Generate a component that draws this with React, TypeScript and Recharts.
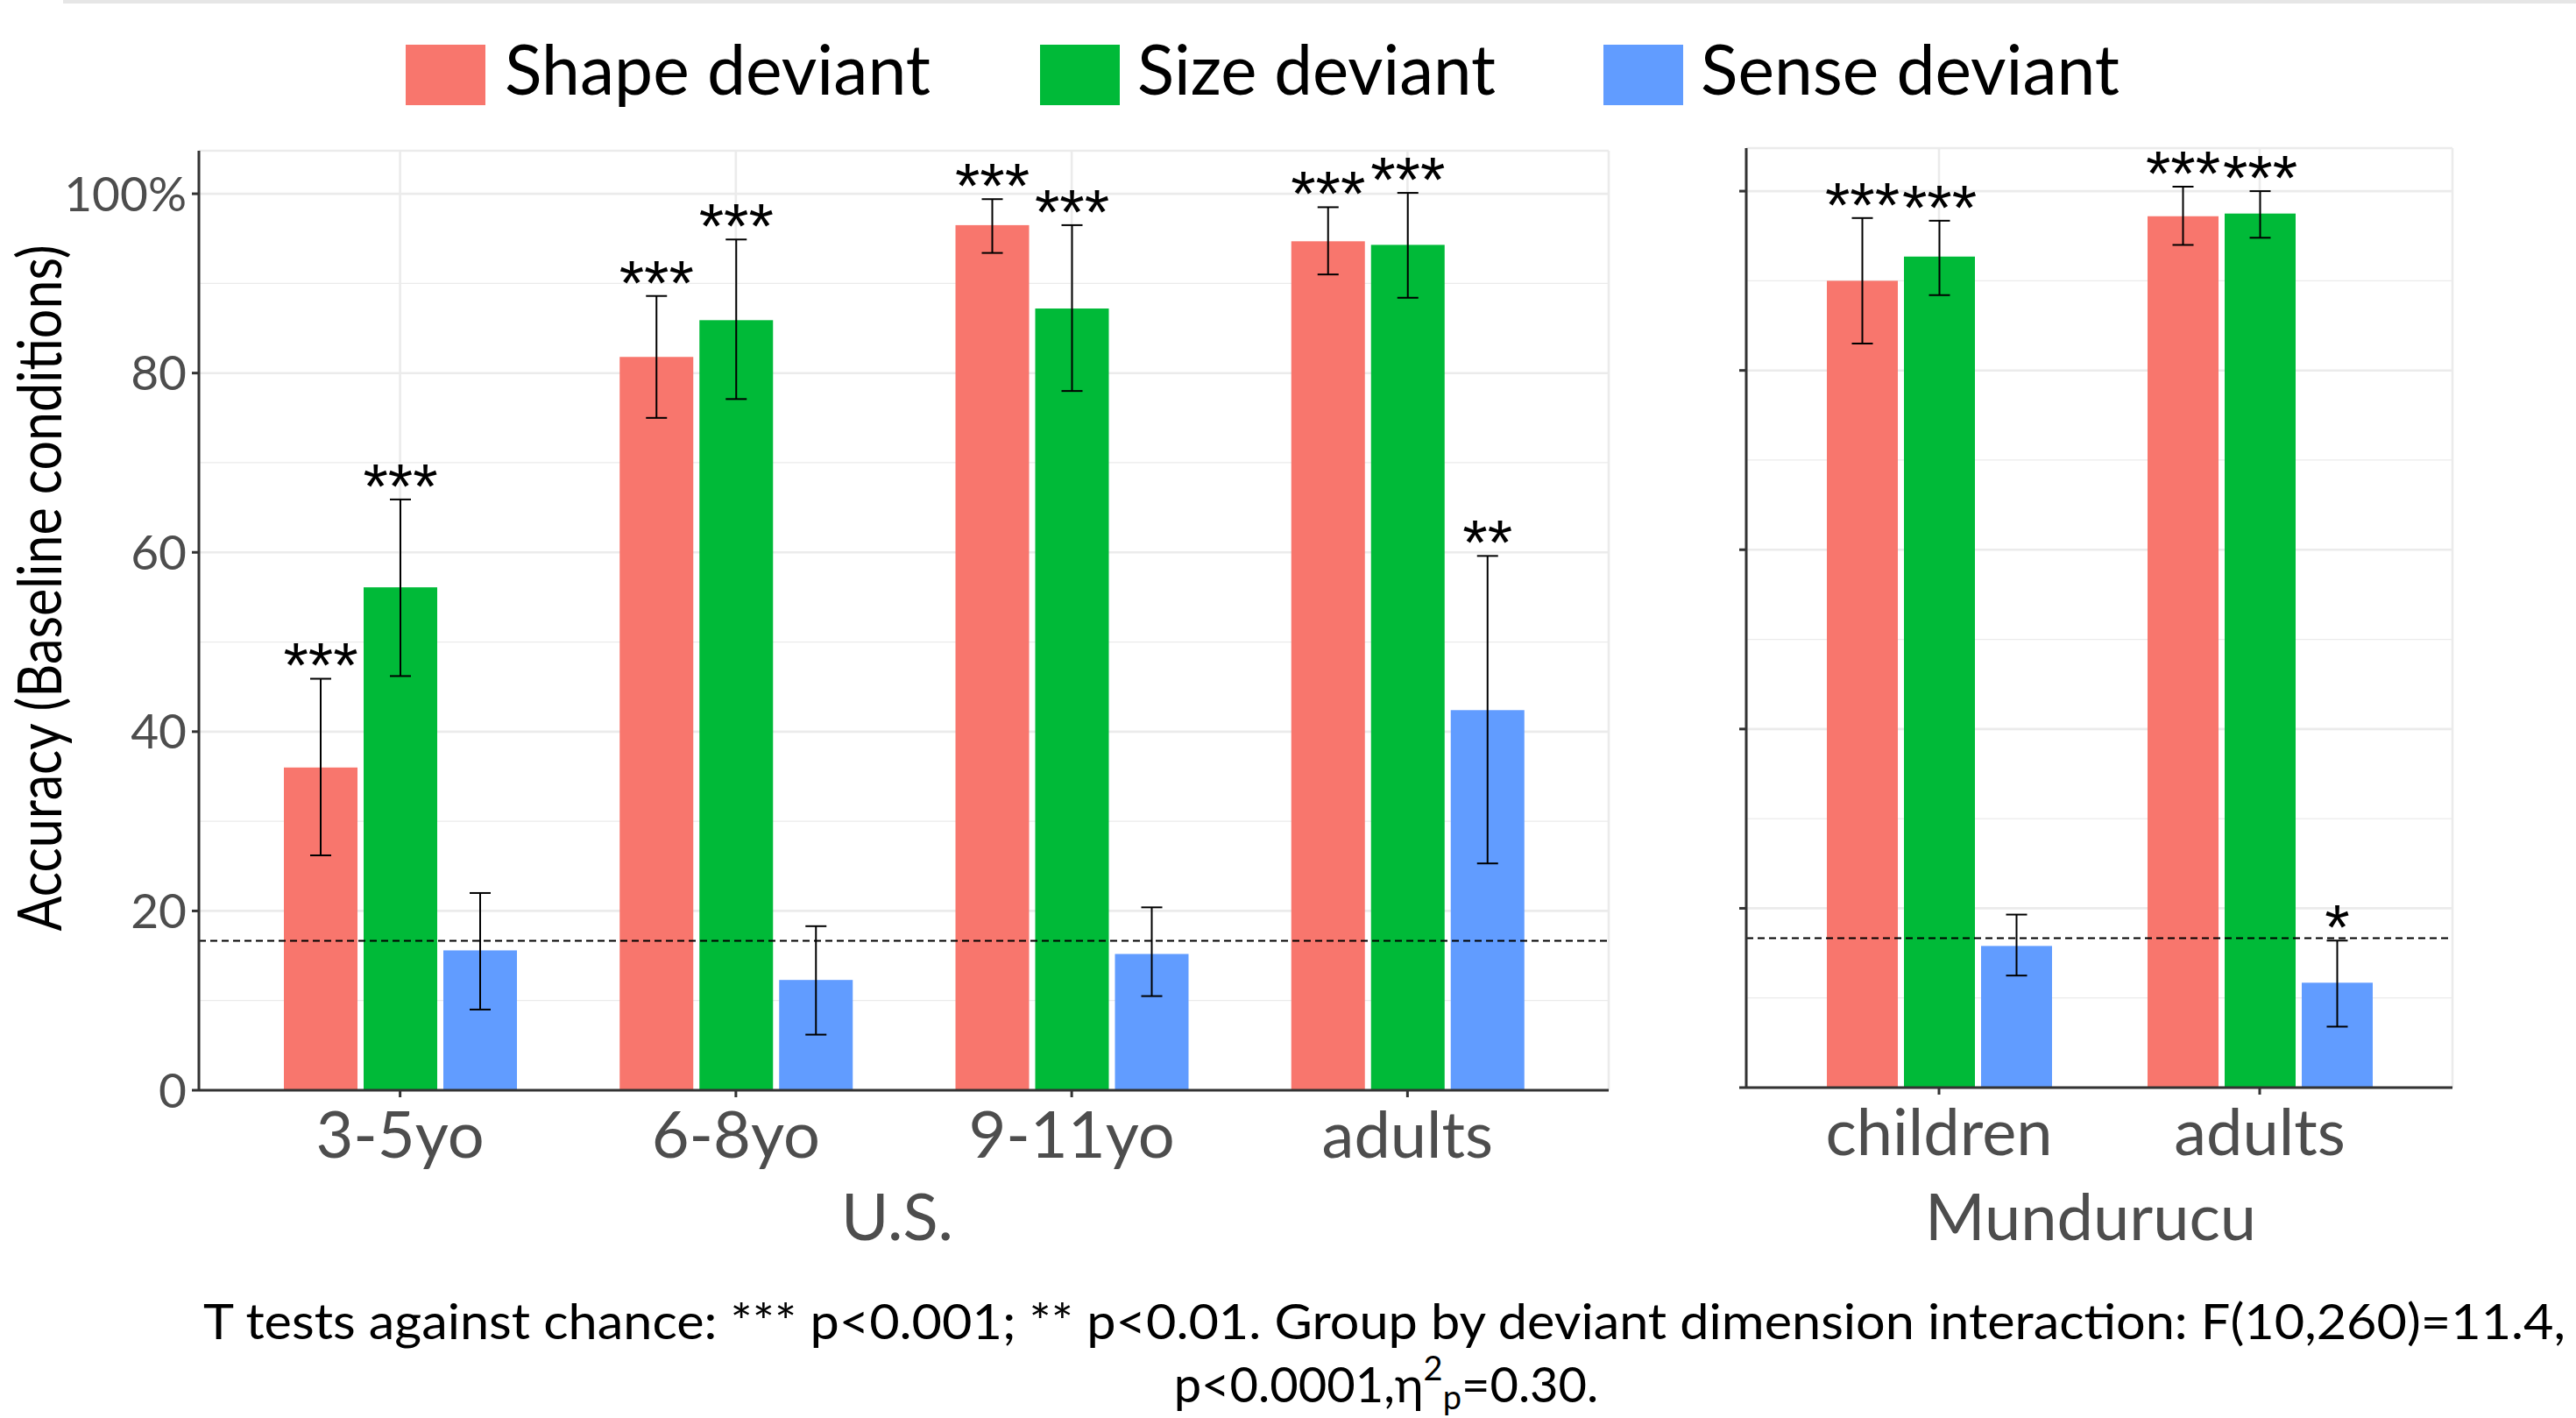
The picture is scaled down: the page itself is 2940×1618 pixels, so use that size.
import React from 'react';
import { BarChart, Bar, XAxis, YAxis, CartesianGrid, ReferenceLine, ErrorBar } from 'recharts';

// ---------- data ----------
const seriesNames = ['Shape deviant', 'Size deviant', 'Sense deviant'];
const seriesKeys = ['shape', 'size', 'sense'];
const seriesColors = ['#F8766D', '#00BA38', '#619CFF'];

const usGroups = ['3-5yo', '6-8yo', '9-11yo', 'adults'];
const usShape = [36.0, 81.8, 96.5, 94.7];
const usShapeLow = [26.2, 75.0, 93.4, 91.0];
const usShapeHigh = [45.9, 88.6, 99.4, 98.5];
const usSize = [56.1, 85.9, 87.2, 94.3];
const usSizeLow = [46.2, 77.1, 78.0, 88.4];
const usSizeHigh = [65.9, 94.9, 96.5, 100.1];
const usSense = [15.6, 12.3, 15.2, 42.4];
const usSenseLow = [9.0, 6.2, 10.5, 25.3];
const usSenseHigh = [22.0, 18.3, 20.4, 59.6];
const usShapeSig = ['***', '***', '***', '***'];
const usSizeSig = ['***', '***', '***', '***'];
const usSenseSig = ['', '', '', '**'];

const muGroups = ['children', 'adults'];
const muShape = [90.0, 97.2];
const muShapeLow = [83.0, 94.0];
const muShapeHigh = [97.0, 100.5];
const muSize = [92.7, 97.5];
const muSizeLow = [88.4, 94.8];
const muSizeHigh = [96.7, 100.0];
const muSense = [15.8, 11.7];
const muSenseLow = [12.5, 6.8];
const muSenseHigh = [19.3, 16.4];
const muShapeSig = ['***', '***'];
const muSizeSig = ['***', '***'];
const muSenseSig = ['', '*'];

const yTicks = [0, 20, 40, 60, 80, 100];
const yMinorGrid = [10, 30, 50, 70, 90];
const chanceLevel = 100 / 6;
const yTop = 104.8;

const usTitle = 'U.S.';
const muTitle = 'Mundurucu';
const yTitle = 'Accuracy (Baseline conditions)';
const footLine1 = 'T tests against chance: *** p<0.001; ** p<0.01. Group by deviant dimension interaction: F(10,260)=11.4,';

// ---------- helpers ----------
function buildRows(groups: string[], vals: number[][], lows: number[][], highs: number[][], sigs: string[][]) {
  return groups.map((g, i) => {
    const row: any = { group: g };
    seriesKeys.forEach((k, s) => {
      row[k] = vals[s][i];
      row[k + 'Err'] = [vals[s][i] - lows[s][i], highs[s][i] - vals[s][i]];
      row[k + 'Hi'] = highs[s][i];
      row[k + 'Sig'] = sigs[s][i];
    });
    return row;
  });
}

const usRows = buildRows(
  usGroups,
  [usShape, usSize, usSense],
  [usShapeLow, usSizeLow, usSenseLow],
  [usShapeHigh, usSizeHigh, usSenseHigh],
  [usShapeSig, usSizeSig, usSenseSig]
);
const muRows = buildRows(
  muGroups,
  [muShape, muSize, muSense],
  [muShapeLow, muSizeLow, muSenseLow],
  [muShapeHigh, muSizeHigh, muSenseHigh],
  [muShapeSig, muSizeSig, muSenseSig]
);

const makeShape = (key: string) => (props: any) => {
  const { x, y, width, height, fill, payload } = props;
  const v = payload[key];
  const hi = payload[key + 'Hi'];
  const sig = payload[key + 'Sig'];
  const y0 = y + height;
  const yHi = v > 0 ? y0 - (hi / v) * height : y0;
  return (
    <g>
      <rect x={x} y={y} width={width} height={height} fill={fill} />
      {sig ? (
        <text
          x={x + width / 2}
          y={yHi + 10}
          textAnchor="middle"
          fontFamily="'Liberation Sans', Arial, sans-serif"
          fontSize={73}
          fill="#000"
        >
          {sig}
        </text>
      ) : null}
    </g>
  );
};

const AXIS = { stroke: '#333333', strokeWidth: 3 };

function Panel(props: {
  rows: any[];
  width: number;
  height: number;
  margin: any;
  barSize: number;
  barGap: number;
  xPad: number;
  yAxisWidth: number;
  showYLabels: boolean;
}) {
  const { rows, width, height, margin, barSize, barGap, xPad, yAxisWidth, showYLabels } = props;
  return (
    <BarChart width={width} height={height} data={rows} margin={margin} barSize={barSize} barGap={barGap}>
      <CartesianGrid horizontalValues={yMinorGrid} vertical={false} stroke="#EBEBEB" strokeWidth={1.3} />
      <CartesianGrid stroke="#EBEBEB" strokeWidth={2.6} />
      <XAxis
        dataKey="group"
        padding={{ left: xPad, right: xPad }}
        height={100}
        tickSize={8}
        tickMargin={16}
        interval={0}
        axisLine={AXIS}
        tickLine={AXIS}
        tick={{ fill: '#4D4D4D', fontSize: 74, fontFamily: 'Lato' }}
      />
      <XAxis
        xAxisId="top"
        orientation="top"
        dataKey="group"
        padding={{ left: xPad, right: xPad }}
        height={0}
        tick={false}
        tickLine={false}
        axisLine={AXIS}
      />
      <YAxis
        type="number"
        domain={[0, yTop]}
        ticks={yTicks}
        width={yAxisWidth}
        tickSize={8}
        tickMargin={6}
        axisLine={AXIS}
        tickLine={AXIS}
        tick={{ fill: '#4D4D4D', fontSize: 55, fontFamily: 'Lato' }}
        tickFormatter={(v: number) => (showYLabels ? (v === 100 ? '100%' : String(v)) : '')}
      />
      <YAxis
        yAxisId="r"
        orientation="right"
        type="number"
        domain={[0, yTop]}
        width={0}
        tick={false}
        tickLine={false}
        axisLine={AXIS}
      />
      {seriesKeys.map((k, s) => (
        <Bar key={k} dataKey={k} fill={seriesColors[s]} isAnimationActive={false} shape={makeShape(k)}>
          <ErrorBar dataKey={k + 'Err'} width={12} stroke="#000" strokeWidth={2} direction="y" />
        </Bar>
      ))}
      <ReferenceLine y={chanceLevel} stroke="#000" strokeWidth={2} strokeDasharray="8 5" />
    </BarChart>
  );
}

export default function App() {
  const legendSwatchX = [463, 1187, 1830];
  const legendTextX = [576, 1298, 1941];
  const legendTextLen = [486, 409, 478];
  return (
    <div
      style={{
        position: 'absolute',
        left: 0,
        top: 0,
        width: 2940,
        height: 1618,
        background: '#fff',
        overflow: 'hidden',
      }}
    >
      <div style={{ position: 'absolute', left: 72, top: 0, width: 2868, height: 4, background: '#E6E6E6' }} />
      <div style={{ position: 'absolute', left: 0, top: 0 }}>
        <Panel
          rows={usRows}
          width={1900}
          height={1460}
          margin={{ top: 172, right: 64, left: 107, bottom: 116 }}
          barSize={84}
          barGap={7}
          xPad={38}
          yAxisWidth={120}
          showYLabels={true}
        />
      </div>
      <div style={{ position: 'absolute', left: 1900, top: 0 }}>
        <Panel
          rows={muRows}
          width={1000}
          height={1460}
          margin={{ top: 169, right: 101, left: 73, bottom: 119 }}
          barSize={81}
          barGap={7}
          xPad={37}
          yAxisWidth={20}
          showYLabels={false}
        />
      </div>
      <svg
        width={2940}
        height={1618}
        style={{ position: 'absolute', left: 0, top: 0, pointerEvents: 'none' }}
      >
        {seriesNames.map((name, s) => (
          <g key={name}>
            <rect x={legendSwatchX[s]} y={51} width={91} height={69} fill={seriesColors[s]} />
            <text
              x={legendTextX[s]}
              y={108}
              fontFamily="Lato"
              fontSize={79}
              fill="#000"
              textLength={legendTextLen[s]}
              lengthAdjust="spacingAndGlyphs"
            >
              {name}
            </text>
          </g>
        ))}
        <text
          transform="translate(70, 671) rotate(-90)"
          textAnchor="middle"
          fontFamily="Lato"
          fontSize={70}
          fill="#000"
          textLength={783}
          lengthAdjust="spacingAndGlyphs"
        >
          {yTitle}
        </text>
        <text x={1024} y={1415} textAnchor="middle" fontFamily="Lato" fontSize={74} fill="#4D4D4D">
          {usTitle}
        </text>
        <text x={2386} y={1415} textAnchor="middle" fontFamily="Lato" fontSize={74} fill="#4D4D4D">
          {muTitle}
        </text>
        <text
          x={232}
          y={1528}
          fontFamily="Lato"
          fontSize={56}
          fill="#000"
          textLength={2696}
          lengthAdjust="spacingAndGlyphs"
        >
          {footLine1}
        </text>
        <text x={1582} y={1600} textAnchor="middle" fontFamily="Lato" fontSize={56} fill="#000">
          p&lt;0.0001,η
          <tspan dy={-25} fontSize={38}>2</tspan>
          <tspan dy={33} fontSize={38}>p</tspan>
          <tspan dy={-8}>=0.30.</tspan>
        </text>
      </svg>
    </div>
  );
}
